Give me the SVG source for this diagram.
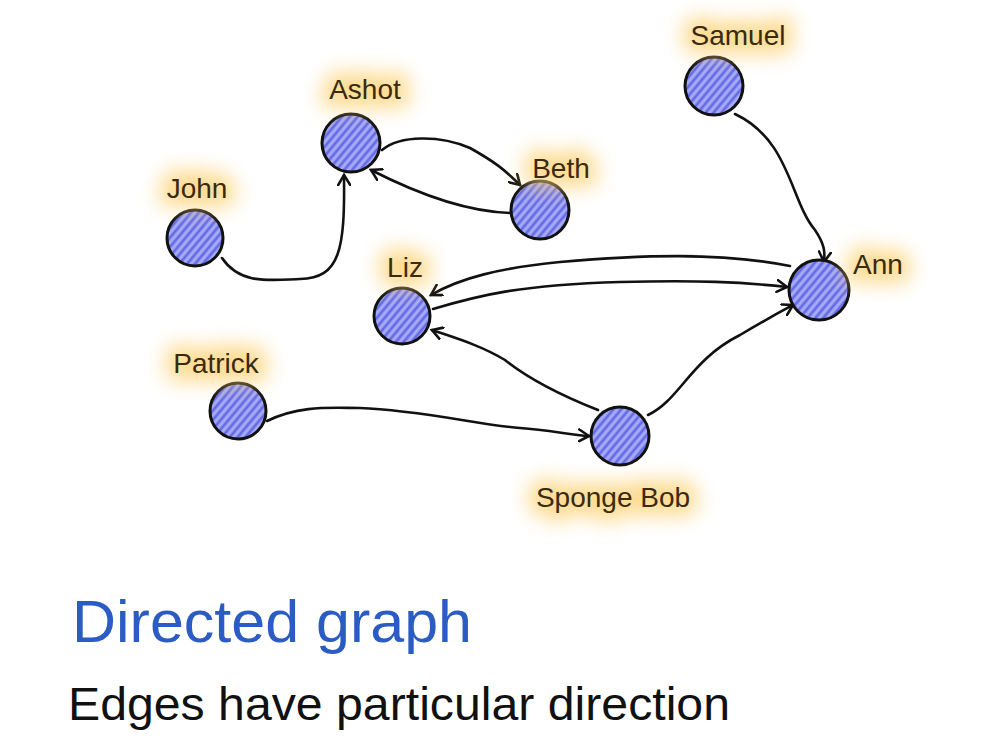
<svg xmlns="http://www.w3.org/2000/svg" width="1000" height="750" viewBox="0 0 1000 750">
<style>
.node circle{fill:url(#hatch);stroke:#111;stroke-width:3}
.lbl{font-family:"Liberation Sans Narrow","Liberation Sans",sans-serif;font-size:28px;fill:#3a2a10}
.glow{fill:#fbcf6a;stroke:#fbcf6a;stroke-width:18;stroke-linejoin:round;filter:url(#blur);opacity:0.75}
.edge{fill:none;stroke:#111;stroke-width:2.6;stroke-linecap:round;marker-end:url(#arr)}
</style>
<defs>
<pattern id="hatch" width="6" height="6" patternUnits="userSpaceOnUse" patternTransform="rotate(-50)">
<rect width="6" height="6" fill="#8d92f0"/>
<line x1="0" y1="1" x2="6" y2="1" stroke="#5a60e4" stroke-width="1.6"/>
<line x1="0" y1="4" x2="6" y2="4" stroke="#c4c6fa" stroke-width="1"/>
</pattern>
<filter id="blur" x="-60%" y="-120%" width="220%" height="340%"><feGaussianBlur stdDeviation="10"/></filter>
<marker id="arr" markerWidth="14" markerHeight="14" refX="11" refY="7" orient="auto" markerUnits="userSpaceOnUse">
<path d="M1,1 L11,7 L1,13" fill="none" stroke="#111" stroke-width="2.6" stroke-linecap="round"/>
</marker>
</defs>
<rect width="1000" height="750" fill="#fff"/>
<g id="connectors">
<path class="edge" d="M222,258 C240,285 270,280 300,279 C340,278 345,250 344,175"/>
<path class="edge" d="M382,150 C400,135 440,135 470,148 C495,162 505,170 520,185"/>
<path class="edge" d="M511,213 C470,212 420,195 371,170"/>
<path class="edge" d="M735,114 C790,140 790,200 815,230 C825,245 825,252 824,262"/>
<path class="edge" d="M790,266 C720,252 640,255 560,262 C500,268 460,278 431,295"/>
<path class="edge" d="M433,309 C480,295 520,285 620,282 C700,280 740,282 787,287"/>
<path class="edge" d="M598,410 C560,395 530,380 505,360 C480,345 455,338 432,330"/>
<path class="edge" d="M648,415 C680,400 690,360 740,335 C765,320 780,312 793,305"/>
<path class="edge" d="M267,421 C300,405 330,408 360,408 C420,410 480,425 520,428 C550,430 570,435 589,436"/>
</g>
<g id="node-ashot" class="node"><circle cx="351" cy="143" r="29"/><text class="lbl glow" x="365" y="99" text-anchor="middle">Ashot</text><text class="lbl" x="365" y="99" text-anchor="middle">Ashot</text></g>
<g id="node-beth" class="node"><circle cx="540" cy="210" r="29"/><text class="lbl glow" x="561" y="178" text-anchor="middle">Beth</text><text class="lbl" x="561" y="178" text-anchor="middle">Beth</text></g>
<g id="node-john" class="node"><circle cx="195" cy="238" r="28"/><text class="lbl glow" x="197" y="198" text-anchor="middle">John</text><text class="lbl" x="197" y="198" text-anchor="middle">John</text></g>
<g id="node-samuel" class="node"><circle cx="714" cy="86" r="29"/><text class="lbl glow" x="738" y="45" text-anchor="middle">Samuel</text><text class="lbl" x="738" y="45" text-anchor="middle">Samuel</text></g>
<g id="node-ann" class="node"><circle cx="819" cy="290" r="30"/><text class="lbl glow" x="878" y="274" text-anchor="middle">Ann</text><text class="lbl" x="878" y="274" text-anchor="middle">Ann</text></g>
<g id="node-liz" class="node"><circle cx="402" cy="316" r="28"/><text class="lbl glow" x="405" y="277" text-anchor="middle">Liz</text><text class="lbl" x="405" y="277" text-anchor="middle">Liz</text></g>
<g id="node-patrick" class="node"><circle cx="238" cy="411" r="28"/><text class="lbl glow" x="216" y="373" text-anchor="middle">Patrick</text><text class="lbl" x="216" y="373" text-anchor="middle">Patrick</text></g>
<g id="node-spongebob" class="node"><circle cx="620" cy="436" r="29"/><text class="lbl glow" x="613" y="507" text-anchor="middle">Sponge Bob</text><text class="lbl" x="613" y="507" text-anchor="middle">Sponge Bob</text></g>
<text x="72" y="642" font-family="Liberation Sans Narrow,Liberation Sans,sans-serif" font-size="60" fill="#2a5cc4" textLength="400" lengthAdjust="spacingAndGlyphs">Directed graph</text>
<text x="68" y="720" font-family="Liberation Sans Narrow,Liberation Sans,sans-serif" font-size="46" fill="#111" textLength="662" lengthAdjust="spacingAndGlyphs">Edges have particular direction</text>
</svg>
